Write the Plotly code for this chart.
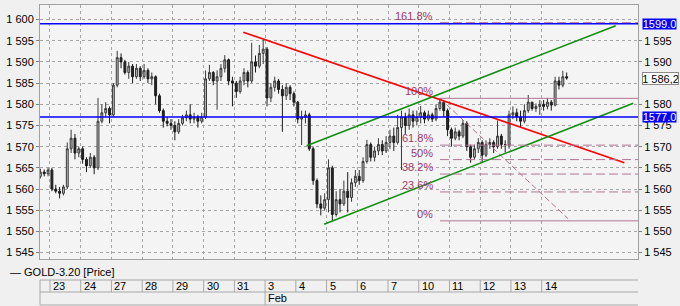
import plotly.graph_objects as go

# ---------------- data ----------------
day_labels = ["23", "24", "27", "28", "29", "30", "31", "3", "4", "5", "6", "7", "10", "11", "12", "13", "14"]
month_labels = ["Feb"]
month_start_day = [7]
bars_per_day = [3, 8, 8, 8, 8, 8, 8, 8, 8, 8, 8, 8, 8, 8, 8, 8, 8, 7]   # first entry: partial Jan 22
slots_per_day = 8

opens = [1563.0, 1564.0, 1563.6,
         1564.5, 1560.0, 1559.5, 1559.0, 1560.5, 1569.5, 1572.0, 1568.5,
         1569.5, 1567.0, 1565.5, 1567.5, 1565.0, 1576.0, 1578.0, 1579.0,
         1577.5, 1584.5, 1591.0, 1590.0, 1587.5, 1589.0, 1586.5, 1588.5,
         1586.5, 1588.0, 1586.0, 1586.5, 1582.0, 1578.5, 1576.0, 1575.5,
         1575.0, 1573.5, 1575.5, 1576.8, 1577.5, 1576.5, 1577.0, 1576.0,
         1577.0, 1586.0, 1587.5, 1585.5, 1586.5, 1588.5, 1590.5, 1585.5,
         1585.0, 1583.0, 1585.5, 1587.5, 1585.5, 1590.0, 1589.0, 1592.0,
         1593.0, 1581.5, 1584.0, 1585.5, 1583.5, 1582.0, 1584.0, 1582.5,
         1580.5, 1576.5, 1577.0, 1577.5, 1569.5, 1562.0, 1556.5, 1555.5,
         1557.5, 1565.0, 1554.0, 1557.5, 1556.5, 1559.5, 1558.0, 1561.5,
         1563.0, 1562.0, 1566.5, 1570.5, 1567.5, 1569.0, 1570.5, 1569.0,
         1571.0, 1572.5, 1571.0, 1574.5, 1577.0, 1575.0, 1577.5, 1576.0,
         1577.0, 1578.0, 1576.5, 1577.5, 1576.5, 1579.0, 1580.5, 1578.5,
         1574.0, 1572.0, 1573.5, 1572.5, 1575.5, 1570.0, 1567.5, 1569.5,
         1571.0, 1568.0, 1570.5, 1571.0, 1570.0, 1572.5, 1570.5, 1570.5,
         1577.5, 1578.0, 1577.0, 1576.0, 1578.5, 1580.5, 1579.0, 1579.5,
         1580.0, 1579.5, 1580.5, 1579.8, 1585.5, 1584.5, 1586.5]
highs = [1564.8, 1564.6, 1565.0,
         1565.0, 1561.0, 1560.5, 1561.0, 1571.0, 1574.0, 1573.0, 1570.0,
         1570.0, 1567.5, 1568.5, 1568.0, 1581.5, 1580.0, 1580.5, 1579.5,
         1585.0, 1592.6, 1592.0, 1590.5, 1590.0, 1589.5, 1589.5, 1589.0,
         1589.5, 1588.5, 1587.5, 1586.8, 1582.5, 1579.0, 1577.0, 1576.5,
         1576.0, 1576.5, 1577.5, 1578.5, 1580.0, 1578.0, 1577.5, 1578.0,
         1588.0, 1589.3, 1587.8, 1588.0, 1589.5, 1591.6, 1590.8, 1586.5,
         1585.5, 1586.5, 1588.5, 1588.0, 1594.5, 1591.5, 1594.0, 1595.2,
         1593.5, 1585.0, 1586.5, 1586.0, 1584.5, 1585.0, 1584.5, 1583.0,
         1580.8, 1578.5, 1578.5, 1578.0, 1570.0, 1562.5, 1558.5, 1559.0,
         1567.0, 1565.5, 1559.5, 1560.0, 1562.0, 1564.0, 1562.5, 1564.5,
         1564.5, 1567.5, 1571.6, 1571.0, 1570.0, 1572.0, 1571.5, 1572.5,
         1574.0, 1574.5, 1577.5, 1578.5, 1578.0, 1579.0, 1578.5, 1578.5,
         1579.6, 1578.5, 1578.5, 1578.0, 1580.0, 1581.4, 1581.0, 1579.0,
         1574.5, 1574.5, 1574.0, 1576.3, 1576.0, 1570.5, 1570.5, 1572.0,
         1571.5, 1571.5, 1572.0, 1571.5, 1576.2, 1573.0, 1571.5, 1578.5,
         1579.5, 1579.0, 1578.5, 1580.0, 1582.2, 1580.5, 1580.2, 1581.0,
         1581.0, 1581.5, 1581.0, 1586.5, 1586.5, 1587.9, 1587.5]
lows = [1562.5, 1563.0, 1563.0,
        1559.5, 1559.0, 1557.8, 1558.5, 1560.0, 1568.5, 1567.0, 1567.5,
        1566.0, 1564.0, 1565.0, 1563.5, 1564.5, 1575.5, 1577.0, 1575.5,
        1577.0, 1584.0, 1588.5, 1587.0, 1586.0, 1585.0, 1586.0, 1585.5,
        1586.0, 1585.0, 1584.5, 1580.0, 1578.0, 1574.5, 1574.8, 1574.0,
        1571.5, 1573.0, 1575.0, 1576.0, 1575.5, 1575.5, 1574.5, 1575.5,
        1576.5, 1585.5, 1584.5, 1578.7, 1585.5, 1587.5, 1584.5, 1579.5,
        1581.5, 1582.5, 1584.5, 1584.0, 1585.0, 1587.5, 1588.5, 1589.5,
        1579.5, 1580.5, 1583.0, 1582.5, 1573.5, 1581.0, 1581.0, 1579.5,
        1575.5, 1570.4, 1575.5, 1569.0, 1561.0, 1555.5, 1553.8, 1555.0,
        1554.5, 1552.5, 1553.5, 1554.5, 1556.0, 1554.5, 1557.0, 1560.5,
        1561.0, 1561.5, 1566.0, 1566.5, 1566.5, 1568.0, 1568.0, 1568.5,
        1569.5, 1569.0, 1570.5, 1564.5, 1573.0, 1574.0, 1574.5, 1575.0,
        1575.5, 1575.5, 1576.0, 1575.8, 1576.0, 1578.5, 1577.0, 1572.5,
        1570.0, 1571.5, 1571.5, 1572.0, 1569.0, 1566.2, 1567.0, 1568.5,
        1566.2, 1567.5, 1569.5, 1568.5, 1569.5, 1569.5, 1568.6, 1569.5,
        1576.5, 1576.0, 1574.5, 1575.5, 1578.0, 1578.5, 1578.2, 1577.5,
        1578.5, 1578.8, 1578.5, 1579.5, 1583.5, 1584.0, 1585.8]
closes = [1564.0, 1563.6, 1564.5,
          1560.0, 1559.5, 1559.0, 1560.5, 1569.5, 1572.0, 1568.5, 1569.5,
          1567.0, 1565.5, 1567.5, 1565.0, 1576.0, 1578.0, 1579.0, 1577.5,
          1584.5, 1591.0, 1590.0, 1587.5, 1589.0, 1586.5, 1588.5, 1586.5,
          1588.0, 1586.0, 1586.5, 1582.0, 1578.5, 1576.0, 1575.5, 1575.0,
          1573.5, 1575.5, 1576.8, 1577.5, 1576.5, 1577.0, 1576.0, 1577.0,
          1586.0, 1587.5, 1585.5, 1586.5, 1588.5, 1590.5, 1585.5, 1585.0,
          1583.0, 1585.5, 1587.5, 1585.5, 1590.0, 1589.0, 1592.0, 1593.0,
          1581.5, 1584.0, 1585.5, 1583.5, 1582.0, 1584.0, 1582.5, 1580.5,
          1576.5, 1577.0, 1577.5, 1569.5, 1562.0, 1556.5, 1555.5, 1557.5,
          1565.0, 1554.0, 1557.5, 1556.5, 1559.5, 1558.0, 1561.5, 1563.0,
          1562.0, 1566.5, 1570.5, 1567.5, 1569.0, 1570.5, 1569.0, 1571.0,
          1572.5, 1571.0, 1574.5, 1577.0, 1575.0, 1577.5, 1576.0, 1577.0,
          1578.0, 1576.5, 1577.5, 1576.5, 1579.0, 1580.5, 1578.5, 1574.0,
          1572.0, 1573.5, 1572.5, 1575.5, 1570.0, 1567.5, 1569.5, 1571.0,
          1568.0, 1570.5, 1571.0, 1570.0, 1572.5, 1570.5, 1570.5, 1577.5,
          1578.0, 1577.0, 1576.0, 1578.5, 1580.5, 1579.0, 1579.5, 1580.0,
          1579.5, 1580.5, 1579.8, 1585.5, 1584.5, 1586.5, 1586.2]

# horizontal levels
h_levels = [1599.0, 1577.0]
h_labels = ["1599.0", "1577.0"]
last_price = 1586.2
last_label = "1 586,2"

# trend lines (day position, price)
red_x, red_y = [6.29, 18.69], [1596.98, 1566.23]
grn_up_x, grn_up_y = [8.35, 18.41], [1570.24, 1598.54]
grn_lo_x, grn_lo_y = [8.92, 18.98], [1551.7, 1580.24]

# Fibonacci
fib_x = [12.69, 16.86]
fib_hi, fib_lo = 1581.4, 1552.5
fib_end_price = 1553.0
fib_ratios = [1.618, 1.0, 0.618, 0.5, 0.382, 0.236, 0.0]
fib_texts = ["161.8%", "100%", "61.8%", "50%", "38.2%", "23.6%", "0%"]

y_range = [1543.5, 1603.42]
x_range = [-0.325, 19.134]
y_ticks = [1545, 1550, 1555, 1560, 1565, 1570, 1575, 1580, 1585, 1590, 1595, 1600]
# right-hand tick labels hidden behind the price boxes are left out
y_ticks_right = [1545, 1550, 1555, 1560, 1565, 1570, 1575, 1580, 1590, 1595]

# ---------------- build ----------------
FONT = "Arial, Liberation Sans, sans-serif"
xs = []
start_slot = slots_per_day - bars_per_day[0]
for di, n in enumerate(bars_per_day):
    day = di - 1
    for k in range(n):
        slot = (start_slot + k) if di == 0 else k
        xs.append(day + (slot + 0.5) / slots_per_day)

fig = go.Figure()
fig.add_trace(go.Candlestick(
    x=xs, open=opens, high=highs, low=lows, close=closes,
    increasing=dict(line=dict(color="#3a3a3a", width=1), fillcolor="#bdbdbd"),
    decreasing=dict(line=dict(color="#1a1a1a", width=1), fillcolor="#2a2a2a"),
    whiskerwidth=0, showlegend=False, hoverinfo="skip", yaxis="y"))

# right-side axis carrier (invisible)
fig.add_trace(go.Scatter(x=[xs[0]], y=[closes[0]], yaxis="y2", mode="markers",
                         marker=dict(opacity=0), showlegend=False, hoverinfo="skip"))

fib_col_line = "#b27494"
fib_col_text = "#9b3a6e"
shapes = []
for lv in h_levels:
    shapes.append(dict(type="line", xref="paper", x0=0, x1=1, yref="y", y0=lv, y1=lv,
                       line=dict(color="#0000ff", width=1.5)))
rng = fib_hi - fib_lo
for r in fib_ratios:
    lv = fib_lo + r * rng
    solid = r in (0.0, 1.0)
    shapes.append(dict(type="line", xref="x", x0=fib_x[0], x1=x_range[1], yref="y", y0=lv, y1=lv,
                       line=dict(color=fib_col_line, width=1, dash="solid" if solid else "9px,4px")))

fig.add_trace(go.Scatter(x=fib_x, y=[fib_hi, fib_end_price], mode="lines",
                         line=dict(color=fib_col_line, width=1, dash="6px,3px"),
                         showlegend=False, hoverinfo="skip"))
fig.add_trace(go.Scatter(x=red_x, y=red_y, mode="lines", line=dict(color="#ff0000", width=1.6),
                         showlegend=False, hoverinfo="skip"))
fig.add_trace(go.Scatter(x=grn_up_x, y=grn_up_y, mode="lines", line=dict(color="#109010", width=1.6),
                         showlegend=False, hoverinfo="skip"))
fig.add_trace(go.Scatter(x=grn_lo_x, y=grn_lo_y, mode="lines", line=dict(color="#109010", width=1.6),
                         showlegend=False, hoverinfo="skip"))

annotations = []
for r, t in zip(fib_ratios, fib_texts):
    lv = fib_lo + r * rng
    annotations.append(dict(x=fib_x[0], y=lv, xref="x", yref="y", text=t, showarrow=False,
                            xanchor="right", yanchor="bottom", xshift=-5, yshift=-1,
                            font=dict(family=FONT, size=11, color=fib_col_text)))
for lv, t in zip(h_levels, h_labels):
    annotations.append(dict(x=1, y=lv, xref="paper", yref="y", text=t, showarrow=False,
                            xanchor="left", yanchor="middle", xshift=4, bgcolor="#0000ff",
                            borderpad=0, height=10, width=33,
                            font=dict(family=FONT, size=11, color="#ffffff")))
annotations.append(dict(x=1, y=last_price, xref="paper", yref="y", text=last_label, showarrow=False,
                        xanchor="left", yanchor="middle", xshift=4, bgcolor="#ffffff",
                        bordercolor="#8a8a8a", borderwidth=1, borderpad=0, height=11, width=35,
                        font=dict(family=FONT, size=11, color="#000000")))

# bottom date table
row_top, row_mid, row_bot = -0.0827, -0.130, -0.181
for yy in (row_top, row_mid, row_bot):
    shapes.append(dict(type="line", xref="paper", x0=0, x1=1, yref="paper", y0=yy, y1=yy,
                       line=dict(color="#a8a8a8", width=1)))
shapes.append(dict(type="line", xref="paper", x0=0, x1=0, yref="paper", y0=row_top, y1=row_bot,
                   line=dict(color="#a8a8a8", width=1)))
for d, lab in enumerate(day_labels):
    shapes.append(dict(type="line", xref="x", x0=d, x1=d, yref="paper", y0=row_top, y1=row_mid,
                       line=dict(color="#a8a8a8", width=1)))
    annotations.append(dict(x=d, y=(row_top + row_mid) / 2, xref="x", yref="paper", text=lab,
                            showarrow=False, xanchor="left", yanchor="middle", xshift=1,
                            font=dict(family=FONT, size=11, color="#000000")))
for d, lab in zip(month_start_day, month_labels):
    shapes.append(dict(type="line", xref="x", x0=d, x1=d, yref="paper", y0=row_mid, y1=row_bot,
                       line=dict(color="#a8a8a8", width=1)))
    annotations.append(dict(x=d, y=(row_mid + row_bot) / 2, xref="x", yref="paper", text=lab,
                            showarrow=False, xanchor="left", yanchor="middle", xshift=1,
                            font=dict(family=FONT, size=11, color="#000000")))
annotations.append(dict(x=0, y=-0.051, xref="paper", yref="paper", text="— GOLD-3.20 [Price]",
                        showarrow=False, xanchor="left", yanchor="middle", xshift=-32,
                        font=dict(family=FONT, size=11, color="#000000")))

yax_common = dict(range=y_range, tickformat=",d", ticks="outside", ticklen=3,
                  tickcolor="#808080", tickfont=dict(family=FONT, size=11, color="#000000"),
                  zeroline=False)
fig.update_layout(
    width=680, height=306, margin=dict(l=40, r=42, t=5, b=47),
    paper_bgcolor="#f0f0f0", plot_bgcolor="#f4f4f4", separators=", ",
    showlegend=False,
    xaxis=dict(range=x_range, tickvals=list(range(len(day_labels))), showticklabels=False,
               ticks="", showgrid=True, gridcolor="#a6a6a6", griddash="dot", gridwidth=1,
               showline=True, linecolor="#a0a0a0", mirror=True, zeroline=False,
               rangeslider=dict(visible=False)),
    yaxis=dict(side="left", tickvals=y_ticks, showgrid=True, gridcolor="#a6a6a6", griddash="dot",
               gridwidth=1, showline=True, linecolor="#a0a0a0", mirror=True, **yax_common),
    yaxis2=dict(side="right", overlaying="y", matches="y", tickvals=y_ticks_right, showgrid=False,
                showline=False, **yax_common),
    shapes=shapes, annotations=annotations,
)
fig.write_html("out.html")
